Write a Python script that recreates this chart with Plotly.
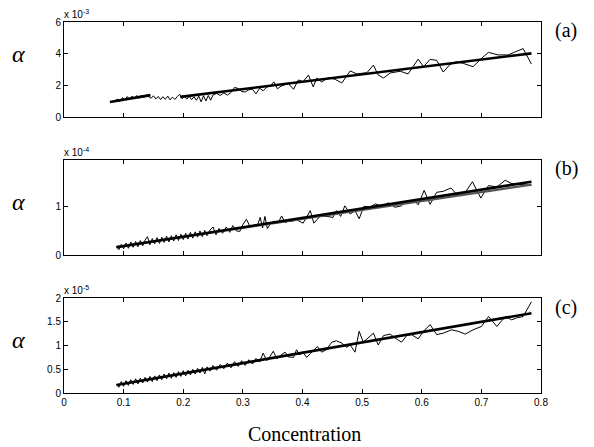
import plotly.graph_objects as go

# ---------------- data ----------------
# panel (a): alpha in units of 1e-3
a_x = [0.086, 0.090, 0.094, 0.098, 0.102, 0.106, 0.110, 0.114, 0.118, 0.122, 0.126, 0.130, 0.134, 0.138,
       0.142, 0.146, 0.150, 0.154, 0.158, 0.162, 0.166, 0.170, 0.174, 0.178, 0.182, 0.186, 0.190, 0.194,
       0.198, 0.202, 0.206, 0.210, 0.214, 0.218, 0.222, 0.226, 0.230, 0.234, 0.238, 0.242, 0.246, 0.250,
       0.256, 0.262, 0.268, 0.274, 0.280, 0.286, 0.292, 0.298, 0.304, 0.310, 0.316, 0.322, 0.328, 0.334,
       0.340, 0.346, 0.352, 0.358, 0.364, 0.370, 0.376,
       0.385, 0.393, 0.401, 0.410, 0.418, 0.424, 0.432, 0.443, 0.454, 0.466, 0.480, 0.491, 0.508, 0.519,
       0.527, 0.536, 0.547, 0.564, 0.577, 0.594, 0.603, 0.614, 0.625, 0.636, 0.647, 0.658, 0.670, 0.686,
       0.701, 0.712, 0.728, 0.745, 0.756, 0.770, 0.784]
a_y = [1.05, 1.12, 0.98, 1.22, 1.08, 1.29, 1.11, 1.32, 1.16, 1.36, 1.18, 1.38, 1.22, 1.40,
       1.28, 1.18, 1.34, 1.14, 1.30, 1.10, 1.28, 1.12, 1.32, 1.08, 1.26, 1.11, 1.29, 1.44,
       1.16, 1.29, 1.13, 1.30, 1.10, 1.28, 1.06, 1.32, 0.96, 1.34, 1.01, 1.36, 1.06, 1.39,
       1.49, 1.36, 1.52, 1.38, 1.54, 1.87, 1.80, 1.61, 1.58, 1.72, 1.76, 1.46, 1.82, 1.66,
       1.89, 1.97, 2.22, 1.78, 1.95, 2.05, 2.12,
       1.75, 2.34, 2.23, 2.65, 1.90, 2.46, 2.21, 2.48, 2.39, 2.15, 2.91, 2.72, 2.80, 3.28,
       2.65, 2.46, 2.78, 2.89, 2.72, 3.65, 3.18, 3.64, 3.58, 2.84, 3.30, 3.49, 3.38, 3.18,
       3.73, 4.08, 3.92, 3.92, 4.10, 4.32, 3.34]
a_fit1_x = [0.077, 0.145]
a_fit1_y = [0.95, 1.38]
a_fit2_x = [0.195, 0.784]
a_fit2_y = [1.27, 4.02]

# panel (b): alpha in units of 1e-4
b_x = [0.088, 0.092, 0.096, 0.100, 0.104, 0.108, 0.112, 0.116, 0.120, 0.124, 0.128, 0.132, 0.136, 0.140,
       0.144, 0.148, 0.152, 0.156, 0.160, 0.164, 0.168, 0.172, 0.176, 0.180, 0.184, 0.188, 0.192, 0.196,
       0.200, 0.204, 0.208, 0.212, 0.216, 0.220, 0.224, 0.228, 0.232, 0.236, 0.240, 0.245, 0.250, 0.255,
       0.260, 0.266, 0.272, 0.278, 0.283, 0.289, 0.295, 0.300, 0.306, 0.312, 0.318, 0.324, 0.329, 0.333,
       0.337, 0.341, 0.347, 0.353, 0.359, 0.365, 0.371, 0.376,
       0.382, 0.390, 0.401, 0.413, 0.419, 0.429, 0.441, 0.451, 0.457, 0.464, 0.471, 0.480, 0.488, 0.495,
       0.503, 0.513, 0.522, 0.533, 0.544, 0.555, 0.566, 0.575, 0.589, 0.594, 0.604, 0.614, 0.625, 0.636,
       0.649, 0.659, 0.670, 0.685, 0.699, 0.712, 0.726, 0.740, 0.751, 0.765, 0.784]
b_y = [0.18, 0.11, 0.22, 0.13, 0.25, 0.14, 0.27, 0.16, 0.28, 0.17, 0.30, 0.19, 0.31, 0.38,
       0.21, 0.34, 0.23, 0.36, 0.24, 0.37, 0.26, 0.39, 0.27, 0.40, 0.29, 0.42, 0.30, 0.43,
       0.32, 0.45, 0.33, 0.47, 0.35, 0.48, 0.37, 0.50, 0.38, 0.51, 0.40, 0.52, 0.58, 0.42,
       0.55, 0.45, 0.58, 0.47, 0.61, 0.50, 0.49, 0.63, 0.74, 0.59, 0.62, 0.60, 0.78, 0.56,
       0.80, 0.55, 0.66, 0.70, 0.66, 0.81, 0.67, 0.70,
       0.70, 0.73, 0.66, 0.92, 0.66, 0.80, 0.80, 0.78, 0.92, 0.80, 1.02, 0.85, 0.92, 0.75,
       1.01, 0.99, 1.06, 1.01, 1.08, 0.99, 1.02, 1.13, 1.11, 1.04, 1.34, 1.05, 1.30, 1.32,
       1.39, 1.25, 1.24, 1.52, 1.18, 1.44, 1.41, 1.55, 1.48, 1.46, 1.44]
b_fit1_x = [0.088, 0.784]
b_fit1_y = [0.16, 1.52]
b_fit2_x = [0.088, 0.784]
b_fit2_y = [0.17, 1.46]

# panel (c): alpha in units of 1e-5
c_x = [0.088, 0.092, 0.096, 0.100, 0.104, 0.108, 0.112, 0.116, 0.120, 0.124, 0.128, 0.132, 0.136, 0.140,
       0.144, 0.148, 0.152, 0.156, 0.160, 0.164, 0.168, 0.172, 0.176, 0.180, 0.184, 0.188, 0.192, 0.196,
       0.200, 0.204, 0.208, 0.212, 0.216, 0.220, 0.224, 0.228, 0.232, 0.236, 0.240, 0.245, 0.250, 0.256,
       0.262, 0.268, 0.274, 0.280, 0.286, 0.292, 0.298, 0.304, 0.310, 0.316, 0.322, 0.328, 0.334, 0.340,
       0.345, 0.351, 0.357, 0.363, 0.371, 0.376,
       0.385, 0.390, 0.395, 0.400, 0.407, 0.415, 0.425, 0.432, 0.440, 0.449, 0.457, 0.466, 0.474, 0.480,
       0.488, 0.495, 0.502, 0.519, 0.527, 0.536, 0.547, 0.554, 0.566, 0.575, 0.583, 0.594, 0.603, 0.614,
       0.625, 0.636, 0.650, 0.661, 0.673, 0.686, 0.700, 0.712, 0.726, 0.740, 0.751, 0.759, 0.770, 0.784]
c_y = [0.19, 0.12, 0.24, 0.14, 0.26, 0.16, 0.28, 0.18, 0.30, 0.19, 0.31, 0.21, 0.33, 0.23,
       0.35, 0.24, 0.36, 0.26, 0.38, 0.28, 0.40, 0.30, 0.42, 0.31, 0.43, 0.33, 0.45, 0.35,
       0.47, 0.36, 0.48, 0.38, 0.50, 0.40, 0.52, 0.42, 0.54, 0.40, 0.55, 0.46, 0.58, 0.48,
       0.60, 0.51, 0.63, 0.53, 0.66, 0.56, 0.68, 0.58, 0.70, 0.61, 0.73, 0.65, 0.84, 0.68,
       0.76, 0.88, 0.72, 0.79, 0.86, 0.76,
       0.75, 0.91, 0.80, 0.87, 0.75, 0.86, 0.98, 0.86, 0.91, 1.07, 1.10, 1.05, 0.96, 1.01,
       0.86, 1.30, 1.07, 1.26, 1.01, 1.21, 1.24, 1.17, 1.07, 1.21, 1.23, 1.14, 1.30, 1.44,
       1.23, 1.26, 1.33, 1.30, 1.24, 1.33, 1.40, 1.61, 1.40, 1.61, 1.54, 1.58, 1.61, 1.92]
c_fit_x = [0.088, 0.784]
c_fit_y = [0.17, 1.68]

x_ticks = [0, 0.1, 0.2, 0.3, 0.4, 0.5, 0.6, 0.7, 0.8]
x_ticktext = ["0", "0.1", "0.2", "0.3", "0.4", "0.5", "0.6", "0.7", "0.8"]
a_yticks = [0, 2, 4, 6]
b_yticks = [0, 1]
c_yticks = [0, 0.5, 1, 1.5, 2]
c_yticktext = ["0", "0.5", "1", "1.5", "2"]
exponents = ["x 10<sup>-3</sup>", "x 10<sup>-4</sup>", "x 10<sup>-5</sup>"]
panel_labels = ["(a)", "(b)", "(c)"]

# ---------------- figure ----------------
fig = go.Figure()
thin = dict(color="black", width=1)
thick = dict(color="black", width=2.6)

def add(x, y, line, ax):
    fig.add_trace(go.Scatter(x=x, y=y, mode="lines", line=line, showlegend=False,
                             hoverinfo="skip", xaxis="x" + ax, yaxis="y" + ax))

add(a_x, a_y, thin, "")
add(a_fit1_x, a_fit1_y, thick, "")
add(a_fit2_x, a_fit2_y, thick, "")
add(b_x, b_y, thin, "2")
add(b_fit2_x, b_fit2_y, dict(color="#555555", width=2.2), "2")
add(b_fit1_x, b_fit1_y, thick, "2")
add(c_x, c_y, thin, "3")
add(c_fit_x, c_fit_y, thick, "3")

tickfont = dict(family="Liberation Sans, Arial, sans-serif", size=10, color="black")
common_x = dict(range=[0, 0.8], tickvals=x_ticks, ticktext=x_ticktext, ticks="inside",
                ticklen=4, tickcolor="black", showline=True, linecolor="black", linewidth=1,
                mirror="ticks", showgrid=False, zeroline=False, tickfont=tickfont, domain=[0, 1])
common_y = dict(ticks="inside", ticklen=4, tickcolor="black", showline=True, linecolor="black",
                linewidth=1, mirror="ticks", showgrid=False, zeroline=False, tickfont=tickfont)

H = 371.0
dom_a = [(393 - 117) / H, 1.0]
dom_b = [(393 - 255) / H, (393 - 160) / H]
dom_c = [0.0, (393 - 298) / H]

fig.update_layout(
    width=594, height=447,
    margin=dict(l=64, r=53, t=22, b=54),
    paper_bgcolor="white", plot_bgcolor="white",
    xaxis=dict(common_x, anchor="y", showticklabels=False),
    xaxis2=dict(common_x, anchor="y2", showticklabels=False),
    xaxis3=dict(common_x, anchor="y3", showticklabels=True),
    yaxis=dict(common_y, range=[0, 6], tickvals=a_yticks, domain=dom_a, anchor="x"),
    yaxis2=dict(common_y, range=[0, 1.97], tickvals=b_yticks, domain=dom_b, anchor="x2"),
    yaxis3=dict(common_y, range=[0, 2], tickvals=c_yticks, ticktext=c_yticktext, domain=dom_c, anchor="x3"),
)

serif = "Liberation Serif, DejaVu Serif, serif"
alpha_y = [54, 201.5, 340]
label_y = [31, 168, 307]
for i, ax in enumerate(["", "2", "3"]):
    fig.add_annotation(text=exponents[i], xref="x" + ax + " domain", yref="y" + ax + " domain",
                       x=0, y=1, xanchor="left", yanchor="bottom", showarrow=False, xshift=-2,
                       font=dict(family="Liberation Sans, Arial, sans-serif", size=10, color="black"))
    fig.add_annotation(text="<i>α</i>", xref="paper", yref="paper", x=-0.095, xanchor="center",
                       y=(393 - alpha_y[i]) / H, yanchor="middle", showarrow=False,
                       font=dict(family=serif, size=24, color="black"))
    fig.add_annotation(text=panel_labels[i], xref="paper", yref="paper", x=1.025, xanchor="left",
                       y=(393 - label_y[i]) / H, yanchor="middle", showarrow=False,
                       font=dict(family=serif, size=20, color="black"))

fig.add_annotation(text="Concentration", xref="paper", yref="paper", x=(304 - 64) / 477.0,
                   xanchor="center", y=(393 - 434) / H, yanchor="middle", showarrow=False,
                   font=dict(family=serif, size=20, color="black"))

fig.write_html("out.html", config={"displayModeBar": False},
               post_script="document.body.style.margin='0';document.body.style.overflow='hidden';")
